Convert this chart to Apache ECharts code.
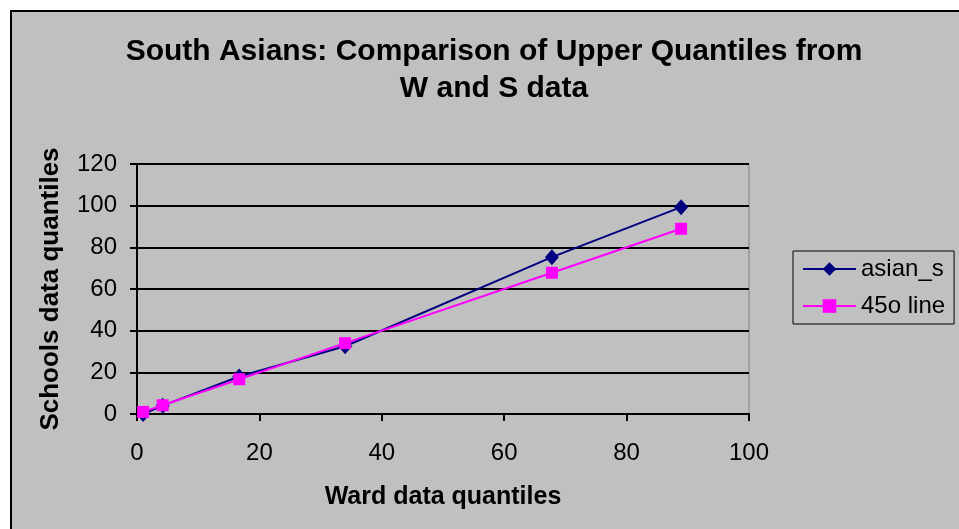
<!DOCTYPE html>
<html>
<head>
<meta charset="utf-8">
<script src="https://cdn.jsdelivr.net/npm/echarts@6/dist/echarts.min.js"></script>
<style>
html, body { margin: 0; padding: 0; background: #ffffff; }
#chart { width: 959px; height: 529px; }
</style>
</head>
<body>
<div id="chart"></div>
<script>
var wardQuantiles = [1, 4.2, 16.7, 34, 67.8, 88.9];
var asianS = [0, 4, 18, 32.5, 75.3, 99.3];
var line45 = [1, 4.2, 16.7, 34, 67.8, 88.9];
var seriesNames = ['asian_s', '45o line'];

function pairs(xs, ys) {
    var out = [];
    for (var i = 0; i < xs.length; i++) {
        out.push([xs[i], ys[i]]);
    }
    return out;
}

var myChart = echarts.init(document.getElementById('chart'));
var font = 'Liberation Sans, Arial, sans-serif';
var option = {
    backgroundColor: '#ffffff',
    animation: false,
    graphic: [
        {
            type: 'rect',
            z: -10,
            shape: { x: 11, y: 11, width: 960, height: 530 },
            style: { fill: '#c0c0c0', stroke: '#000000', lineWidth: 2 }
        }
    ],
    title: {
        text: 'South Asians: Comparison of Upper Quantiles from\nW and S data',
        left: 489,
        top: 28,
        textAlign: 'center',
        textStyle: {
            fontFamily: font,
            fontWeight: 'bold',
            fontSize: 30,
            lineHeight: 37,
            color: '#000000'
        }
    },
    legend: {
        orient: 'vertical',
        left: 793,
        top: 251,
        backgroundColor: '#c0c0c0',
        borderColor: '#000000',
        borderWidth: 1,
        borderRadius: 0,
        padding: [6, 9, 6, 9],
        itemGap: 13,
        itemWidth: 53,
        itemHeight: 17,
        textStyle: { fontFamily: font, fontSize: 24, color: '#000000' },
        data: seriesNames
    },
    grid: {
        left: 137,
        right: 210,
        top: 164,
        bottom: 115,
        show: true,
        borderColor: '#808080',
        borderWidth: 1,
        backgroundColor: 'transparent'
    },
    xAxis: {
        type: 'value',
        min: 0,
        max: 100,
        interval: 20,
        name: 'Ward data quantiles',
        nameLocation: 'middle',
        nameGap: 71,
        nameTextStyle: { fontFamily: font, fontWeight: 'bold', fontSize: 25, color: '#000000' },
        axisLine: { lineStyle: { color: '#000000', width: 2 } },
        axisTick: { show: true, inside: false, length: 7, lineStyle: { color: '#000000', width: 2 } },
        axisLabel: { fontFamily: font, fontSize: 24, color: '#000000', margin: 27 },
        splitLine: { show: false }
    },
    yAxis: {
        type: 'value',
        min: 0,
        max: 120,
        interval: 20,
        name: 'Schools data quantiles',
        nameLocation: 'middle',
        nameGap: 73,
        nameTextStyle: { fontFamily: font, fontWeight: 'bold', fontSize: 26, color: '#000000' },
        axisLine: { lineStyle: { color: '#000000', width: 2 } },
        axisTick: { show: true, inside: false, length: 7, lineStyle: { color: '#000000', width: 2 } },
        axisLabel: { fontFamily: font, fontSize: 24, color: '#000000', margin: 20 },
        splitLine: { show: true, lineStyle: { color: '#000000', width: 2 } }
    },
    series: [
        {
            name: seriesNames[0],
            type: 'line',
            data: pairs(wardQuantiles, asianS),
            symbol: 'diamond',
            symbolSize: [14, 16],
            itemStyle: { color: '#000080' },
            lineStyle: { color: '#000080', width: 2 },
            z: 2
        },
        {
            name: seriesNames[1],
            type: 'line',
            data: pairs(wardQuantiles, line45),
            symbol: 'rect',
            symbolSize: 12,
            itemStyle: { color: '#ff00ff' },
            lineStyle: { color: '#ff00ff', width: 2 },
            z: 3
        }
    ]
};
myChart.setOption(option);
</script>
</body>
</html>
